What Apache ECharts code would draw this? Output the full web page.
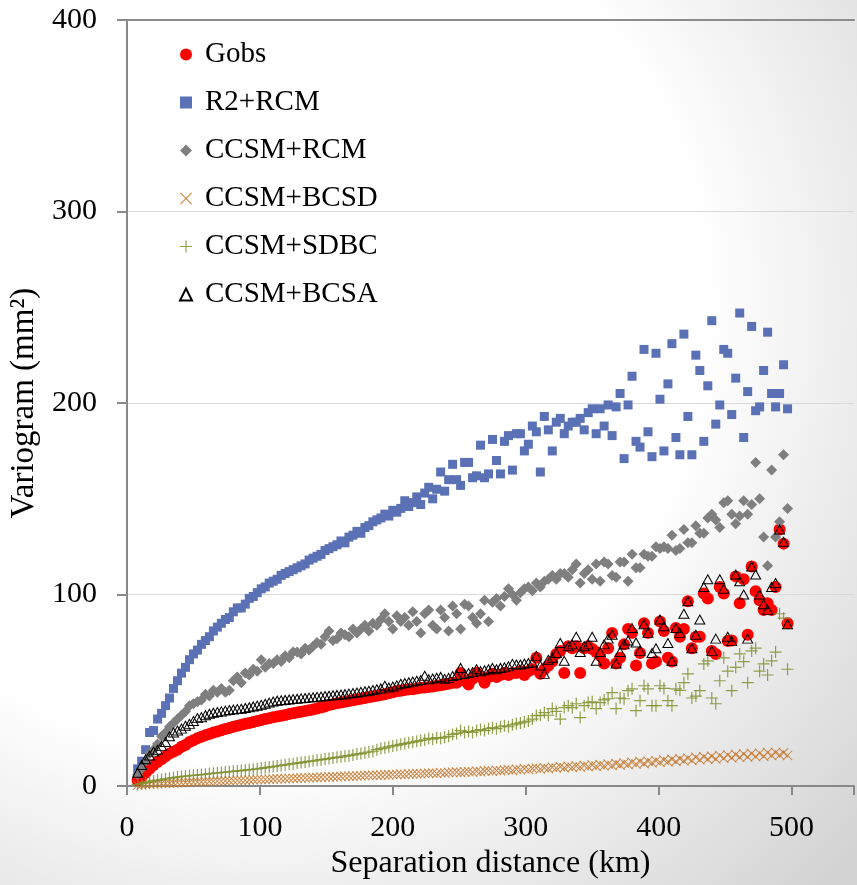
<!DOCTYPE html>
<html>
<head>
<meta charset="utf-8">
<script src="https://cdn.jsdelivr.net/npm/echarts@6/dist/echarts.min.js"></script>
<style>
  html, body { margin: 0; padding: 0; }
  #chart { width: 857px; height: 885px; }
</style>
</head>
<body>
<div id="chart"></div>
<script>
// separation distance of each lag (km)
const distKm = [
  8, 11, 14, 17, 20, 23, 26, 29, 32, 35,
  38, 41, 44, 47, 50, 53, 56, 59, 62, 65,
  68, 71, 74, 77, 80, 83, 86, 89, 92, 95,
  98, 101, 104, 107, 110, 113, 116, 119, 122, 125,
  128, 131, 134, 137, 140, 143, 146, 149, 152, 155,
  158, 161, 164, 167, 170, 173, 176, 179, 182, 185,
  188, 191, 194, 197, 200, 203, 206, 209, 212, 215,
  218, 221, 224, 227, 230, 233, 236, 239, 242, 245,
  248, 251, 254, 257, 260, 263, 266, 269, 272, 275,
  278, 281, 284, 287, 290, 293, 296, 299, 302, 305,
  308, 311, 314, 317, 320, 323, 326, 329, 332, 335,
  338, 341, 344, 347, 350, 353, 356, 359, 362, 365,
  368, 371, 374, 377, 380, 383, 386, 389, 392, 395,
  398, 401, 404, 407, 410, 413, 416, 419, 422, 425,
  428, 431, 434, 437, 440, 443, 446, 449, 452, 455,
  458, 461, 464, 467, 470, 473, 476, 479, 482, 485,
  488, 491, 494, 497
]

// variogram values (mm2)
const gobs = [
  3, 5, 7, 9, 11, 12.6, 14, 15.6, 17, 18,
  19, 20.5, 21.5, 23, 24, 25, 25.8, 26.5, 27.2, 28,
  28.5, 29.2, 29.8, 30.3, 31, 31.5, 32, 32.6, 33, 33.5,
  34, 34.5, 35, 35.4, 35.9, 36.3, 36.7, 37.1, 37.6, 38,
  38.4, 38.8, 39.2, 39.6, 40, 40.5, 41, 41.6, 42.3, 42.8,
  43.2, 43.6, 44, 44.4, 44.8, 45.2, 45.6, 46, 46.4, 46.8,
  47.2, 47.6, 48, 48.5, 49, 49.5, 49.8, 50.2, 50.5, 50.6,
  51, 51.3, 51.5, 51.8, 52, 52.4, 52.6, 53, 53.5, 54,
  54, 59, 55, 53, 56, 59, 57, 54, 57, 58.6,
  57, 58, 59, 58, 59, 59, 60, 58, 60, 61,
  67, 58.6, 61, 62.8, 65, 69, 70.6, 59, 73, 72,
  73, 59, 72, 73, 71.6, 70, 68, 64, 72, 80,
  64, 67, 74, 82, 80, 63, 69.5, 85, 80, 64,
  65, 86, 81, 67, 65, 82.5, 78, 82, 96.5, 72,
  78, 78, 100.6, 98, 70.6, 69, 104, 100.6, 75.7, 76,
  109.5, 95.5, 108, 79, 114.7, 101.7, 97, 92, 95.5, 92,
  104, 134, 126.6, 85
]

const r2Rcm = [
  9, 13, 19, 28, 29, 35, 38, 42, 46, 51,
  55, 59, 62, 66, 69, 71, 74, 76, 78, 81,
  83, 85, 87, 88, 91, 93, 93, 95, 98, 99,
  101, 103, 104, 106, 107, 108, 110, 111, 112, 113,
  114, 115, 116, 118, 119, 120, 121, 123, 124, 125,
  126, 128, 127, 130, 131, 133, 132, 135, 136, 138,
  139, 140, 142, 141, 144, 143, 145, 149, 146, 148,
  151, 147, 153, 156, 150, 155, 164, 154, 160, 168,
  160, 157, 169, 169, 161, 162, 178, 161, 163, 181,
  170, 163, 180, 183, 165, 184, 184, 175, 178.5, 188,
  185, 164, 193, 186, 175, 190, 192, 184, 188, 190,
  190, 192, 186, 195, 197, 184, 197, 188, 199, 183,
  198, 205, 171, 199, 214, 180, 177, 228, 185, 172,
  226, 202, 175, 210, 231, 182, 173, 236, 193, 173,
  225, 217, 180, 209, 243, 189, 199, 228, 226, 194,
  213, 247, 182, 206, 240, 196, 198, 217, 237, 205,
  198, 205, 220, 197
]

const ccsmRcm = [
  6, 9, 13, 17, 19, 22, 26, 28, 31, 33,
  35, 37, 39, 42, 43, 44, 45, 48, 47, 50,
  49, 51, 49, 50, 55, 57, 54, 59, 58, 61,
  60, 66, 62, 64, 64, 66, 65, 68, 67, 70,
  70, 69, 72, 71, 73, 75, 74, 78, 81, 76,
  77, 80, 79, 78, 82, 80, 82, 84, 81, 85,
  84, 87, 90, 86, 82, 89, 86, 88, 84, 91,
  86, 80, 90, 92, 84, 82, 92, 88, 81, 94,
  90, 82, 95, 94, 88, 85, 90, 97, 86, 96,
  98, 94, 99, 103, 100, 97, 101, 103, 104, 102,
  106, 104, 107, 108, 110, 108, 111, 111, 109, 113,
  116, 106, 111, 113, 108, 116, 107, 117, 116, 110,
  109, 117, 117, 107, 121, 114, 114, 121, 120, 120,
  125, 124, 125, 124, 131, 123, 124, 134, 127, 127,
  136, 132, 132, 140, 142, 139, 135, 148, 149, 142,
  137, 141, 149, 142, 147, 169, 150, 130, 115, 165,
  130, 138, 173, 145
]

const ccsmBcsd = [
  0.5, 0.6, 0.8, 1, 1.1, 1.2, 1.3, 1.4, 1.5, 1.6,
  1.7, 1.8, 1.9, 2, 2.1, 2.2, 2.2, 2.3, 2.4, 2.5,
  2.6, 2.6, 2.7, 2.8, 2.9, 3, 3, 3.1, 3.2, 3.3,
  3.4, 3.5, 3.5, 3.6, 3.7, 3.8, 3.8, 3.9, 4, 4.1,
  4.1, 4.2, 4.3, 4.4, 4.5, 4.5, 4.6, 4.7, 4.8, 4.9,
  4.9, 5, 5.1, 5.2, 5.2, 5.3, 5.4, 5.5, 5.5, 5.6,
  5.7, 5.8, 5.9, 5.8, 6, 6.1, 6.2, 6.1, 6.3, 6.4,
  6.5, 6.4, 6.6, 6.7, 6.8, 6.6, 7, 6.9, 7.1, 7.2,
  7.3, 7.1, 7.4, 7.6, 7.3, 7.8, 7.5, 7.9, 8.1, 7.8,
  8.2, 8, 8.4, 8.6, 8.2, 8.8, 8.5, 9, 8.7, 9.2,
  9.4, 8.9, 9.6, 9.2, 9.8, 9.5, 10.1, 9.6, 10.3, 9.9,
  10.5, 10, 10.7, 10.2, 11, 10.4, 11.2, 10.6, 11.5, 10.8,
  11.8, 11, 12.1, 11.3, 12.4, 11.5, 12.8, 11.8, 13, 12.2,
  13.3, 12.4, 13.6, 12.7, 14, 12.9, 14.3, 13.2, 14.6, 13.4,
  15, 13.7, 15.3, 14, 15.6, 14.2, 16, 14.5, 16.3, 14.8,
  16.5, 15, 16.8, 15.2, 17, 15.4, 17.2, 15.6, 17.5, 16,
  17.6, 16.2, 17.4, 16
]

const ccsmSdbc = [
  0.8, 1.3, 1.8, 2.2, 2.7, 3, 3.4, 3.8, 4.1, 4.4,
  4.7, 5, 5.2, 5.4, 5.6, 5.8, 6, 6.2, 6.5, 6.7,
  6.9, 7.1, 7.3, 7.5, 7.7, 7.9, 8.1, 8.3, 8.6, 8.8,
  9, 9.3, 9.6, 9.9, 10.2, 10.5, 10.8, 11.1, 11.4, 11.7,
  12, 12.3, 12.6, 12.9, 13.2, 13.5, 13.8, 14.1, 14.4, 14.7,
  15, 15.3, 15.6, 15.9, 16.3, 16.7, 17, 17.4, 17.8, 18.2,
  19, 19.6, 20, 20.5, 21, 21.3, 21.8, 22.2, 22.6, 23,
  23.4, 23.8, 24.2, 24.9, 24.5, 25.3, 25, 25.5, 26, 27,
  27.5, 29, 28, 28.5, 28, 29, 29.5, 29, 30, 30.5,
  30, 31, 31.5, 31, 32, 32.5, 33, 33.5, 34, 35,
  36.8, 37, 38.4, 37, 40.5, 39, 35, 41, 42, 41,
  43, 35.8, 42, 43.6, 44, 40.5, 43.6, 45, 45.6, 48.8,
  40.5, 46, 45.6, 49.8, 50.8, 39.4, 44.6, 52.4, 50.8, 42,
  42, 52.4, 51, 44.6, 42, 50.8, 50, 54, 58.6, 46,
  47, 49.8, 63.8, 65.4, 46, 43, 55, 67, 60, 49.8,
  62, 69, 65, 54, 70.6, 72, 60, 63.8, 58, 65.4,
  70, 90, 87.7, 61
]

const ccsmBcsa = [
  7, 11, 14, 16, 18, 19, 21, 23, 26, 28,
  29, 30, 31.5, 32.5, 34, 35.5, 36, 37, 37.8, 38.3,
  38.7, 39, 39.4, 39.7, 40, 40.2, 40.4, 40.8, 41.2, 41.6,
  42, 42.4, 43, 43.6, 44.2, 44.6, 44.8, 45, 45.2, 45.4,
  45.6, 45.8, 46, 46.2, 46.4, 46.6, 46.8, 47, 47.2, 47.4,
  47.6, 47.8, 48, 48.3, 48.6, 48.9, 49.2, 49.5, 49.8, 50.2,
  50.6, 51, 52.4, 51.5, 52, 52.6, 53.4, 53.8, 54.2, 54.6,
  55, 55.4, 57.6, 55.8, 56.2, 56.6, 57, 56, 56.5, 57.5,
  58, 61.7, 58.5, 59, 59.5, 61, 60, 60.5, 61, 61.7,
  61, 61.7, 62, 62.5, 63.8, 63.5, 63.5, 64, 64.3, 64.5,
  68, 63, 58.6, 66, 67, 69.5, 74.7, 65.4, 73, 74,
  78, 70, 73, 74, 78, 65.4, 70, 74, 77, 79,
  64, 70, 74, 76, 82.5, 75, 70.6, 84.5, 80, 69.5,
  72, 87, 83.5, 74.7, 65.4, 82.5, 80, 90, 96.5, 72,
  79, 87, 104, 108, 70.6, 77, 108, 103, 78, 75.7,
  110.5, 107, 100, 77, 114.7, 110.5, 100, 95, 92, 104,
  106, 134, 127.6, 84.5
]

const seriesNames = ['Gobs', 'R2+RCM', 'CCSM+RCM', 'CCSM+BCSD', 'CCSM+SDBC', 'CCSM+BCSA']
const yTicks = [0, 100, 200, 300, 400]
const xTicks = [0, 100, 200, 300, 400, 500]

const FONT = '"Liberation Serif", "DejaVu Serif", serif'
const PLUS = 'path://M0,5.4H12V6.6H0Z M5.4,0H6.6V12H5.4Z'
const CROSS = 'path://M0,0.8L0.8,0L12,11.2L11.2,12Z M11.2,0L12,0.8L0.8,12L0,11.2Z'

const pairs = vals => distKm.map((d, i) => [d, vals[i]])

const chart = echarts.init(document.getElementById('chart'))

const option = {
  backgroundColor: {
    type: 'radial', x: 0.3, y: 0.35, r: 0.95,
    colorStops: [
      { offset: 0, color: '#ffffff' },
      { offset: 0.55, color: '#ffffff' },
      { offset: 1, color: '#d2d2d2' }
    ]
  },
  animation: false,
  grid: { left: 127, right: 0, top: 20, bottom: 94, containLabel: false },
  legend: {
    data: seriesNames,
    orient: 'vertical',
    left: 174,
    top: 35,
    itemGap: 19,
    itemWidth: 12,
    itemHeight: 12,
    symbolKeepAspect: true,
    textStyle: { fontFamily: FONT, fontSize: 29, color: '#000', padding: [0, 0, 0, 8] }
  },
  xAxis: [{
    type: 'value',
    min: 0,
    max: 547,
    interval: 100,
    name: 'Separation distance (km)',
    nameLocation: 'middle',
    nameGap: 57,
    nameTextStyle: { fontFamily: FONT, fontSize: 32, color: '#000' },
    axisLine: { show: true, lineStyle: { color: '#888', width: 2 } },
    axisTick: { show: true, length: 9, lineStyle: { color: '#888', width: 2 } },
    axisLabel: {
      margin: 27, fontFamily: FONT, fontSize: 30, color: '#000',
      formatter: v => (xTicks.includes(v) ? String(v) : '')
    },
    splitLine: { show: false }
  }, {
    type: 'value',
    position: 'top',
    min: 0,
    max: 547,
    axisLine: { show: true, lineStyle: { color: '#8c8c8c', width: 2 } },
    axisTick: { show: false },
    axisLabel: { show: false },
    splitLine: { show: false }
  }],
  yAxis: {
    type: 'value',
    min: 0,
    max: 400,
    interval: 100,
    name: 'Variogram (mm²)',
    nameLocation: 'middle',
    nameGap: 76,
    nameTextStyle: { fontFamily: FONT, fontSize: 33, color: '#000' },
    axisLine: { show: true, lineStyle: { color: '#888', width: 2 } },
    axisTick: { show: true, length: 10, lineStyle: { color: '#888', width: 2 } },
    axisLabel: {
      margin: 30, fontFamily: FONT, fontSize: 30, color: '#000',
      formatter: v => (yTicks.includes(v) ? String(v) : '')
    },
    splitLine: { show: true, lineStyle: { color: '#d9d9d9', width: 1 } }
  },
  series: [
    {
      name: 'Gobs', type: 'scatter', data: pairs(gobs),
      symbol: 'circle', symbolSize: 12, symbolKeepAspect: true,
      itemStyle: { color: '#ff0000', opacity: 1 }
    },
    {
      name: 'R2+RCM', type: 'scatter', data: pairs(r2Rcm),
      symbol: 'rect', symbolSize: 9, symbolKeepAspect: true,
      itemStyle: { color: '#5b71b5', opacity: 1 }
    },
    {
      name: 'CCSM+RCM', type: 'scatter', data: pairs(ccsmRcm),
      symbol: 'diamond', symbolSize: 11, symbolKeepAspect: true,
      itemStyle: { color: '#7f7f7f', opacity: 1 }
    },
    {
      name: 'CCSM+BCSD', type: 'scatter', data: pairs(ccsmBcsd),
      symbol: CROSS, symbolSize: 10, symbolKeepAspect: true,
      itemStyle: { color: '#c77a30', opacity: 0.9 }
    },
    {
      name: 'CCSM+SDBC', type: 'scatter', data: pairs(ccsmSdbc),
      symbol: PLUS, symbolSize: 12, symbolKeepAspect: true,
      itemStyle: { color: '#7f8f2a', opacity: 0.85 }
    },
    {
      name: 'CCSM+BCSA', type: 'scatter', data: pairs(ccsmBcsa),
      symbol: 'triangle', symbolSize: [10, 9],
      itemStyle: { color: 'rgba(0,0,0,0)', borderColor: '#000', borderWidth: 1, opacity: 1 }
    }
  ]
}

chart.setOption(option)
</script>
</body>
</html>
